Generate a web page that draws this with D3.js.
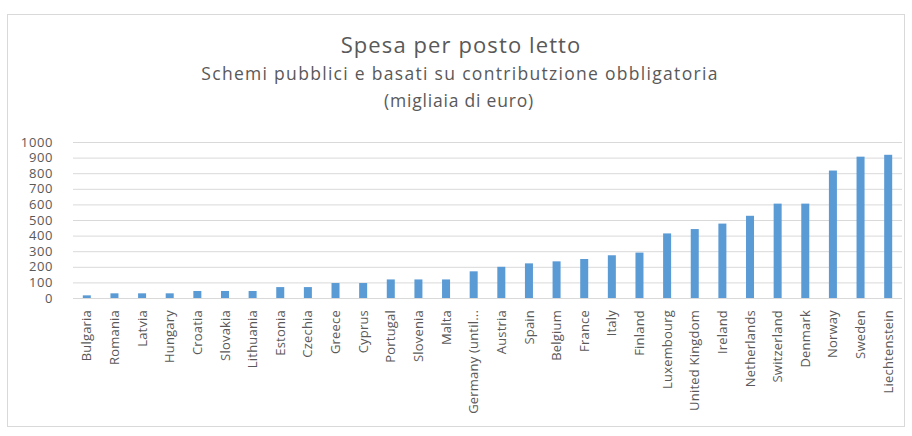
<!DOCTYPE html>
<html>
<head>
<meta charset="utf-8">
<script src="https://cdn.jsdelivr.net/npm/d3@7"></script>
<style>
  html, body { margin: 0; padding: 0; background: #fff; }
  svg text { font-family: "Open Sans", "DejaVu Sans", sans-serif; fill: #595959; }
</style>
</head>
<body>
<svg id="chart" width="912" height="436"></svg>
<script>
// Spesa per posto letto — migliaia di euro
const countries = ["Bulgaria", "Romania", "Latvia", "Hungary", "Croatia", "Slovakia", "Lithuania",
  "Estonia", "Czechia", "Greece", "Cyprus", "Portugal", "Slovenia", "Malta", "Germany (until...",
  "Austria", "Spain", "Belgium", "France", "Italy", "Finland", "Luxembourg", "United Kingdom",
  "Ireland", "Netherlands", "Switzerland", "Denmark", "Norway", "Sweden", "Liechtenstein"];
const spending = [17, 30, 30, 30, 45, 45, 45, 70, 70, 96, 96, 119, 119, 119, 171,
  200, 222, 235, 250, 274, 291, 414, 442, 477, 527, 605, 605, 817, 906, 918];
const yTicks = [0, 100, 200, 300, 400, 500, 600, 700, 800, 900, 1000];
const titleLines = ["Spesa per posto letto",
  "Schemi pubblici e basati su contributzione obbligatoria",
  "(migliaia di euro)"];

const svg = d3.select("#chart");
const plot = { left: 73, right: 902, top: 142, bottom: 298 };

// chart frame
svg.append("rect")
  .attr("x", 7.5).attr("y", 14.5).attr("width", 897).attr("height", 412)
  .attr("fill", "#fff").attr("stroke", "#d9d9d9");

const x = d3.scaleBand().domain(countries).range([plot.left, plot.right]).paddingInner(0.71).paddingOuter(0.355);
const y = d3.scaleLinear().domain([0, 1000]).range([plot.bottom, plot.top]);

// gridlines
svg.append("g").selectAll("line").data(yTicks.filter(d => d > 0)).join("line")
  .attr("x1", plot.left).attr("x2", plot.right)
  .attr("y1", d => y(d) + 0.5).attr("y2", d => y(d) + 0.5)
  .attr("stroke", "#d9d9d9").attr("stroke-width", 1);

// y axis labels
const yAxis = svg.append("g").attr("transform", `translate(${plot.left},0)`)
  .call(d3.axisLeft(y).tickValues(yTicks).tickSize(0).tickPadding(20).tickFormat(d3.format("d")));
yAxis.select(".domain").remove();
yAxis.selectAll("text").style("font-size", "13px").style("letter-spacing", "0.6px").style("fill", "#595959");

// bars
svg.append("g").selectAll("rect").data(countries).join("rect")
  .attr("x", d => x(d))
  .attr("width", x.bandwidth())
  .attr("y", (d, i) => y(spending[i]))
  .attr("height", (d, i) => y(0) - y(spending[i]))
  .attr("fill", "#5b9bd5");

// category axis
const xAxis = svg.append("g").attr("transform", `translate(0,${plot.bottom})`)
  .call(d3.axisBottom(x).tickSize(0).tickPadding(0));
xAxis.select(".domain").attr("stroke", "#d9d9d9").attr("d", `M${plot.left},0.5H${plot.right}`);
xAxis.selectAll("text")
  .style("font-size", "13px").style("letter-spacing", "0.2px").style("fill", "#595959")
  .attr("text-anchor", "end")
  .attr("dy", "0.35em")
  .attr("transform", "translate(0,12) rotate(-90)")
  .attr("x", 0).attr("y", 0);

// titles
svg.append("text").attr("x", 461).attr("y", 53).attr("text-anchor", "middle")
  .style("font-size", "22px").style("letter-spacing", "1.1px").text(titleLines[0]);
svg.append("text").attr("x", 460).attr("y", 80).attr("text-anchor", "middle")
  .style("font-size", "17.5px").style("letter-spacing", "1.3px").text(titleLines[1]);
svg.append("text").attr("x", 459).attr("y", 107).attr("text-anchor", "middle")
  .style("font-size", "17.5px").style("letter-spacing", "0.8px").text(titleLines[2]);
</script>
</body>
</html>
